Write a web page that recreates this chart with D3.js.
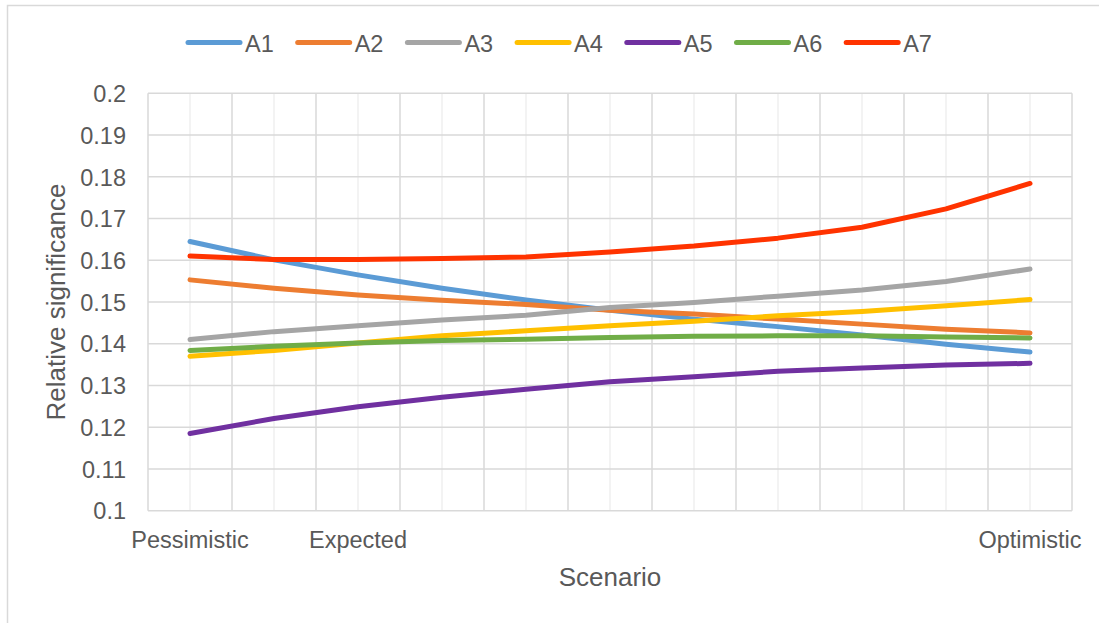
<!DOCTYPE html>
<html>
<head>
<meta charset="utf-8">
<script src="https://cdn.jsdelivr.net/npm/d3@7"></script>
<style>
  html, body { margin: 0; padding: 0; background: #fff; }
  svg { display: block; font-family: "Liberation Sans", Arial, sans-serif; }
</style>
</head>
<body>
<svg id="chart" width="1099" height="623"></svg>
<script>
// Scenario steps along the x axis (only three of them carry a label)
const scenarioLabels = ["Pessimistic", "", "Expected", "", "", "", "", "", "", "", "Optimistic"];

// Relative significance of each alternative per scenario step
const seriesNames = ["A1", "A2", "A3", "A4", "A5", "A6", "A7"];
const a1 = [0.1645, 0.1601, 0.1565, 0.1533, 0.1505, 0.1480, 0.1459, 0.1441, 0.1421, 0.1399, 0.1380];
const a2 = [0.1553, 0.1533, 0.1517, 0.1504, 0.1494, 0.1480, 0.1471, 0.1459, 0.1447, 0.1435, 0.1426];
const a3 = [0.1410, 0.1429, 0.1443, 0.1457, 0.1468, 0.1487, 0.1499, 0.1514, 0.1529, 0.1549, 0.1579];
const a4 = [0.1370, 0.1384, 0.1402, 0.1419, 0.1431, 0.1443, 0.1454, 0.1467, 0.1477, 0.1491, 0.1506];
const a5 = [0.1185, 0.1221, 0.1249, 0.1272, 0.1291, 0.1309, 0.1321, 0.1334, 0.1342, 0.1349, 0.1353];
const a6 = [0.1384, 0.1394, 0.1402, 0.1408, 0.1411, 0.1415, 0.1418, 0.1419, 0.1419, 0.1416, 0.1414];
const a7 = [0.1610, 0.1602, 0.1602, 0.1604, 0.1608, 0.1620, 0.1634, 0.1653, 0.1679, 0.1723, 0.1784];
const seriesValues = [a1, a2, a3, a4, a5, a6, a7];
const seriesColors = ["#5B9BD5", "#ED7D31", "#A5A5A5", "#FFC000", "#7030A0", "#70AD47", "#FF3300"];

// Y axis ticks
const yTickValues = [0.1, 0.11, 0.12, 0.13, 0.14, 0.15, 0.16, 0.17, 0.18, 0.19, 0.2];
const yTickLabels = ["0.1", "0.11", "0.12", "0.13", "0.14", "0.15", "0.16", "0.17", "0.18", "0.19", "0.2"];

const svg = d3.select("#chart");
const textColor = "#595959";
const plot = { left: 148, right: 1072, top: 93.3, bottom: 510.7 };

// Outer chart frame
svg.append("rect")
  .attr("x", 7.5).attr("y", 5.5)
  .attr("width", 1200).attr("height", 700)
  .attr("fill", "none")
  .attr("stroke", "#D9D9D9")
  .attr("stroke-width", 1.5);

const idx = d3.range(scenarioLabels.length);
const x = d3.scaleBand().domain(idx).range([plot.left, plot.right]).padding(0);
const cx = i => x(i) + x.bandwidth() / 2;
const y = d3.scaleLinear().domain([0.1, 0.2]).range([plot.bottom, plot.top]);

const grid = svg.append("g");

// Minor vertical gridlines through each scenario step
grid.selectAll("line.minor")
  .data(idx)
  .enter().append("line")
  .attr("x1", d => cx(d)).attr("x2", d => cx(d))
  .attr("y1", plot.top).attr("y2", plot.bottom)
  .attr("stroke", "#EFEFEF")
  .attr("stroke-width", 1.5);

// Major vertical gridlines on band boundaries
const bounds = idx.map(i => x(i)).concat([plot.right]);
grid.selectAll("line.major")
  .data(bounds)
  .enter().append("line")
  .attr("x1", d => d).attr("x2", d => d)
  .attr("y1", plot.top).attr("y2", plot.bottom)
  .attr("stroke", "#D9D9D9")
  .attr("stroke-width", 1.5);

// Horizontal gridlines
grid.selectAll("line.h")
  .data(yTickValues)
  .enter().append("line")
  .attr("x1", plot.left).attr("x2", plot.right)
  .attr("y1", d => y(d)).attr("y2", d => y(d))
  .attr("stroke", "#D9D9D9")
  .attr("stroke-width", 1.5);

// Y axis
const yAxis = svg.append("g")
  .attr("transform", `translate(${plot.left - 22},0)`)
  .call(d3.axisLeft(y).tickValues(yTickValues)
    .tickFormat((d, i) => yTickLabels[i]).tickSize(0).tickPadding(0));
yAxis.select(".domain").remove();
yAxis.selectAll("text")
  .attr("font-size", "23.5px")
  .attr("font-family", "'Liberation Sans', Arial, sans-serif")
  .attr("fill", textColor)
  .attr("dy", "0.35em");

// X axis
const xAxis = svg.append("g")
  .attr("transform", `translate(0,${plot.bottom})`)
  .call(d3.axisBottom(x).tickFormat(i => scenarioLabels[i]).tickSize(0).tickPadding(0));
xAxis.select(".domain").remove();
xAxis.selectAll("text")
  .attr("font-size", "23.5px")
  .attr("font-family", "'Liberation Sans', Arial, sans-serif")
  .attr("fill", textColor)
  .attr("y", 37.5)
  .attr("dy", 0);

// Axis titles
svg.append("text")
  .attr("x", (plot.left + plot.right) / 2).attr("y", 586)
  .attr("text-anchor", "middle")
  .attr("font-size", "26px")
  .attr("fill", textColor)
  .text("Scenario");

svg.append("text")
  .attr("transform", `translate(65,${(plot.top + plot.bottom) / 2}) rotate(-90)`)
  .attr("text-anchor", "middle")
  .attr("font-size", "26px")
  .attr("fill", textColor)
  .text("Relative significance");

// Series lines
const line = d3.line()
  .x((d, i) => cx(i))
  .y(d => y(d));

svg.append("g").selectAll("path")
  .data(seriesValues)
  .enter().append("path")
  .attr("d", d => line(d))
  .attr("fill", "none")
  .attr("stroke", (d, i) => seriesColors[i])
  .attr("stroke-width", 5)
  .attr("stroke-linecap", "round")
  .attr("stroke-linejoin", "round");

// Legend
const legend = svg.append("g");
const items = legend.selectAll("g")
  .data(seriesNames)
  .enter().append("g")
  .attr("transform", (d, i) => `translate(${186 + i * 109.7},0)`);
items.append("line")
  .attr("x1", 2).attr("x2", 54)
  .attr("y1", 42.5).attr("y2", 42.5)
  .attr("stroke", (d, i) => seriesColors[i])
  .attr("stroke-width", 5)
  .attr("stroke-linecap", "round");
items.append("text")
  .attr("x", 59).attr("y", 51.5)
  .attr("font-size", "23.5px")
  .attr("fill", textColor)
  .text(d => d);
</script>
</body>
</html>
